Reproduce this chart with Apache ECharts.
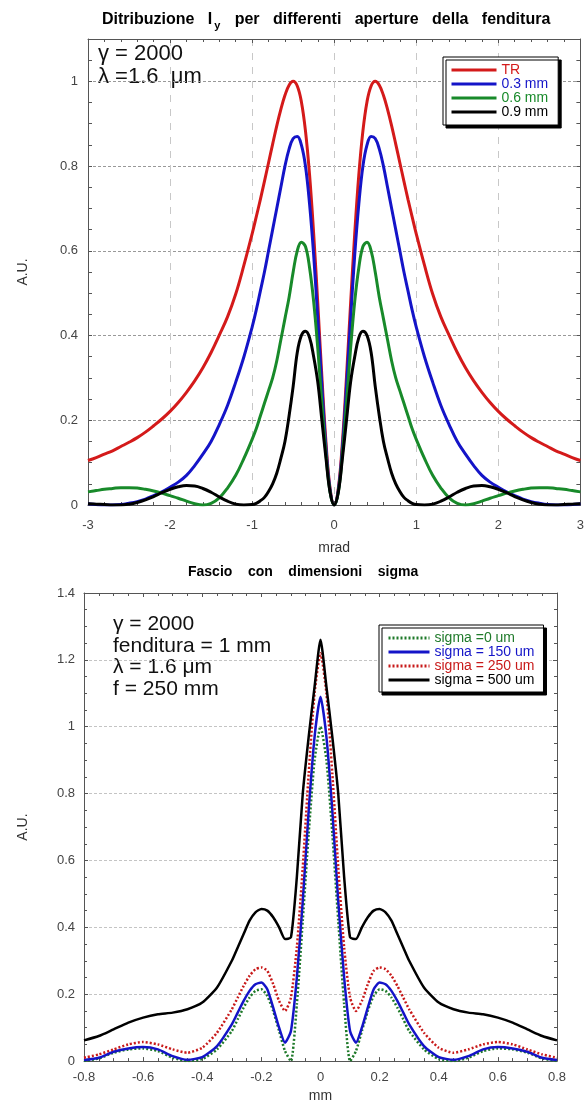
<!DOCTYPE html>
<html>
<head>
<meta charset="utf-8">
<title>Distribuzione Iy</title>
<script src="https://cdn.jsdelivr.net/npm/echarts@6/dist/echarts.min.js"></script>
<style>
  body { margin: 0; background: #fff; }
  .chart { width: 587px; }
</style>
</head>
<body>
<div id="chart_top" class="chart" style="height: 560px;"></div>
<div id="chart_bottom" class="chart" style="height: 548px;"></div>
<script>
// ---- top chart: angle in mrad ----
var topX = [-3.0,-2.9,-2.8,-2.7,-2.6,-2.5,-2.4,-2.3,-2.2,-2.1,-2.0,-1.9,-1.8,-1.7,-1.6,-1.5,-1.4,-1.3,-1.2,-1.1,
  -1.0,-0.95,-0.9,-0.85,-0.8,-0.75,-0.7,-0.65,-0.6,-0.55,-0.5,-0.45,-0.4,-0.35,-0.3,-0.25,-0.2,-0.15,-0.1,-0.05,
  0,
  0.05,0.1,0.15,0.2,0.25,0.3,0.35,0.4,0.45,0.5,0.55,0.6,0.65,0.7,0.75,0.8,0.85,0.9,0.95,1.0,
  1.1,1.2,1.3,1.4,1.5,1.6,1.7,1.8,1.9,2.0,2.1,2.2,2.3,2.4,2.5,2.6,2.7,2.8,2.9,3.0];

var trValues = [.105,.112,.12,.128,.138,.148,.159,.172,.187,.203,.221,.242,.266,.293,.324,.36,.401,.444,.498,.566,
  .64,.68,.721,.764,.808,.852,.895,.934,.967,.991,1.0,.989,.952,.883,.779,.64,.476,.303,.148,.039,
  0,
  .039,.148,.303,.476,.64,.779,.883,.952,.989,1.0,.991,.967,.934,.895,.852,.808,.764,.721,.68,.64,
  .566,.498,.444,.401,.36,.324,.293,.266,.242,.221,.203,.187,.172,.159,.148,.138,.128,.12,.112,.105];

var slit03 = [.003,.001,0,0,.001,.004,.008,.014,.022,.031,.042,.054,.07,.093,.12,.15,.19,.235,.29,.35,
  .42,.46,.505,.55,.60,.65,.70,.75,.80,.84,.865,.87,.85,.80,.71,.59,.44,.28,.135,.035,
  0,
  .035,.135,.28,.44,.59,.71,.80,.85,.87,.865,.84,.80,.75,.70,.65,.60,.55,.505,.46,.42,
  .35,.29,.235,.19,.15,.12,.093,.07,.054,.042,.031,.022,.014,.008,.004,.001,0,0,.001,.003];

var slit06 = [.031,.034,.037,.039,.041,.041,.040,.037,.033,.028,.022,.016,.009,.003,0,.004,.017,.04,.07,.11,
  .155,.18,.21,.24,.27,.30,.34,.39,.44,.49,.55,.60,.62,.61,.56,.48,.37,.24,.12,.03,
  0,
  .03,.12,.24,.37,.48,.56,.61,.62,.60,.55,.49,.44,.39,.34,.30,.27,.24,.21,.18,.155,
  .11,.07,.04,.017,.004,0,.003,.009,.016,.022,.028,.033,.037,.040,.041,.041,.039,.037,.034,.031];

var slit09 = [.003,.002,.001,0,0,.002,.006,.012,.02,.029,.037,.043,.046,.045,.039,.03,.019,.009,.002,0,
  .001,.004,.01,.018,.032,.05,.075,.11,.15,.21,.28,.36,.40,.41,.395,.35,.29,.20,.11,.03,
  0,
  .03,.11,.20,.29,.35,.395,.41,.40,.36,.28,.21,.15,.11,.075,.05,.032,.018,.01,.004,.001,
  0,.002,.009,.019,.03,.039,.045,.046,.043,.037,.029,.02,.012,.006,.002,0,0,.001,.002,.003];

var topNames = ['TR', '0.3 mm', '0.6 mm', '0.9 mm'];
var topColors = ['#d41a1a', '#1414c8', '#188a2a', '#000000'];

// ---- bottom chart: position in mm ----
var botX = [-0.8,-0.75,-0.7,-0.65,-0.6,-0.55,-0.5,-0.45,-0.4,-0.35,-0.3,-0.28,-0.26,-0.24,-0.22,-0.2,-0.18,-0.16,-0.14,-0.12,-0.1,-0.08,-0.06,-0.04,-0.02,
  0,
  0.02,0.04,0.06,0.08,0.1,0.12,0.14,0.16,0.18,0.2,0.22,0.24,0.26,0.28,0.3,0.35,0.4,0.45,0.5,0.55,0.6,0.65,0.7,0.75,0.8];

var sigma0 = [0,.008,.025,.035,.038,.03,.01,0,.006,.035,.09,.125,.16,.19,.21,.215,.195,.15,.09,.03,0,.17,.42,.68,.9,
  1.0,
  .9,.68,.42,.17,0,.03,.09,.15,.195,.215,.21,.19,.16,.125,.09,.035,.006,0,.01,.03,.038,.035,.025,.008,0];

var sigma150 = [.003,.01,.028,.038,.042,.035,.015,.004,.012,.045,.11,.145,.18,.21,.23,.235,.215,.16,.1,.055,.09,.25,.48,.75,.97,
  1.09,
  .97,.75,.48,.25,.09,.055,.1,.16,.215,.235,.23,.21,.18,.145,.11,.045,.012,.004,.015,.035,.042,.038,.028,.01,.003];

var sigma250 = [.01,.02,.035,.05,.057,.05,.035,.025,.04,.085,.155,.19,.225,.255,.275,.28,.27,.23,.18,.15,.19,.34,.58,.86,1.1,
  1.22,
  1.1,.86,.58,.34,.19,.15,.18,.23,.27,.28,.275,.255,.225,.19,.155,.085,.04,.025,.035,.05,.057,.05,.035,.02,.01];

var sigma500 = [.062,.075,.095,.115,.13,.14,.145,.155,.175,.22,.30,.34,.38,.42,.445,.455,.45,.43,.4,.365,.37,.55,.80,.97,1.12,
  1.26,
  1.12,.97,.80,.55,.37,.365,.4,.43,.45,.455,.445,.42,.38,.34,.30,.22,.175,.155,.145,.14,.13,.115,.095,.075,.062];

var botNames = ['sigma =0 um', 'sigma = 150 um', 'sigma = 250 um', 'sigma = 500 um'];
var botColors = ['#1f7a2a', '#1414c8', '#c81a1a', '#000000'];

var FONT = '"Liberation Sans", Arial, sans-serif';

function pairs(xs, ys) {
    return xs.map(function (x, i) { return [x, ys[i]]; });
}

// frame axes: ticks pointing inward on all four sides
function frameAxis(pos, min, max, interval, extra) {
    var a = {
        type: 'value', position: pos, min: min, max: max, interval: interval,
        axisLine: { show: true, onZero: false, lineStyle: { color: '#555', width: 1 } },
        axisTick: { show: true, inside: true, length: 4, lineStyle: { color: '#555' } },
        axisLabel: { show: false },
        splitLine: { show: false }
    };
    for (var k in extra) a[k] = extra[k];
    return a;
}

var echart_top = echarts.init(document.getElementById('chart_top'));

var optionTop = {
    animation: false,
    title: {
        text: 'Ditribuzione   I{s|y}   per   differenti   aperture   della   fenditura',
        left: 97, top: 3,
        textStyle: {
            fontFamily: FONT, fontSize: 16, fontWeight: 'bold', color: '#000',
            rich: { s: { fontFamily: FONT, fontSize: 11, fontWeight: 'bold', padding: [12, 1, 0, 2] } }
        }
    },
    grid: { left: 88, right: 3, top: 39, bottom: 48 },
    legend: {
        orient: 'vertical', left: 443, top: 57,
        padding: [6, 10, 6, 7], itemGap: 0, itemWidth: 45, itemHeight: 13,
        backgroundColor: '#fff', borderColor: '#000', borderWidth: 1,
        shadowColor: '#000', shadowOffsetX: 3, shadowOffsetY: 3, shadowBlur: 0,
        itemStyle: { opacity: 0 },
        lineStyle: { width: 3 },
        textStyle: { fontFamily: FONT, fontSize: 14, lineHeight: 13 },
        data: topNames.map(function (n, i) { return { name: n, textStyle: { color: topColors[i] } }; })
    },
    graphic: [
        { type: 'text', left: 98, top: 43, style: { text: 'γ = 2000', font: '22px ' + FONT, fill: '#111' } },
        { type: 'text', left: 98, top: 66, style: { text: 'λ =1.6  μm', font: '22px ' + FONT, fill: '#111' } }
    ],
    xAxis: [
        frameAxis('bottom', -3, 3, 1, {
            name: 'mrad', nameLocation: 'middle', nameGap: 36,
            nameTextStyle: { fontFamily: FONT, fontSize: 14, color: '#333' },
            axisLabel: { show: true, fontFamily: FONT, fontSize: 13, color: '#444', margin: 14 },
            minorTick: { show: true, splitNumber: 5, length: 3, lineStyle: { color: '#555' } },
            splitLine: { show: true, lineStyle: { color: '#c8c8c8', type: [7, 7], width: 1 } }
        }),
        frameAxis('top', -3, 3, 1, {
            minorTick: { show: true, splitNumber: 5, length: 3, lineStyle: { color: '#555' } }
        })
    ],
    yAxis: [
        frameAxis('left', 0, 1.1, 0.2, {
            name: 'A.U.', nameLocation: 'middle', nameGap: 58, nameRotate: 90,
            nameTextStyle: { fontFamily: FONT, fontSize: 14, color: '#333' },
            axisTick: { show: false },
            axisLabel: {
                show: true, fontFamily: FONT, fontSize: 13, color: '#444', margin: 10,
                formatter: function (v) { return v > 1.05 ? '' : String(Math.round(v * 10) / 10); }
            },
            splitLine: { show: true, lineStyle: { color: '#999', type: [3, 2], width: 1 } }
        }),
        frameAxis('left', 0, 1.1, 0.05, { axisLine: { show: false, onZero: false } }),
        frameAxis('right', 0, 1.1, 0.05, {})
    ],
    series: [trValues, slit03, slit06, slit09].map(function (vals, i) {
        return {
            name: topNames[i], type: 'line', xAxisIndex: 0, yAxisIndex: 0,
            data: pairs(topX, vals), smooth: 0.4, symbol: 'none', clip: true,
            lineStyle: { color: topColors[i], width: 3 }, itemStyle: { color: topColors[i] }
        };
    })
};
echart_top.setOption(optionTop);

var echart_bottom = echarts.init(document.getElementById('chart_bottom'));

var optionBottom = {
    animation: false,
    title: {
        text: 'Fascio    con    dimensioni    sigma',
        left: 183, top: 0,
        textStyle: { fontFamily: FONT, fontSize: 14, fontWeight: 'bold', color: '#000' }
    },
    grid: { left: 84, right: 30, top: 33, bottom: 40 },
    legend: {
        orient: 'vertical', left: 379, top: 65,
        padding: [6, 9, 5, 8], itemGap: 0, itemWidth: 41, itemHeight: 12.5,
        backgroundColor: '#fff', borderColor: '#000', borderWidth: 1,
        shadowColor: '#000', shadowOffsetX: 3, shadowOffsetY: 3, shadowBlur: 0,
        itemStyle: { opacity: 0 },
        lineStyle: { width: 3 },
        textStyle: { fontFamily: FONT, fontSize: 14, lineHeight: 12.5 },
        data: botNames.map(function (n, i) { return { name: n, textStyle: { color: botColors[i] } }; })
    },
    graphic: [
        { type: 'text', left: 113, top: 54, style: { text: 'γ = 2000', font: '21px ' + FONT, fill: '#111' } },
        { type: 'text', left: 113, top: 76, style: { text: 'fenditura = 1 mm', font: '21px ' + FONT, fill: '#111' } },
        { type: 'text', left: 113, top: 97, style: { text: 'λ = 1.6 μm', font: '21px ' + FONT, fill: '#111' } },
        { type: 'text', left: 113, top: 119, style: { text: 'f = 250 mm', font: '21px ' + FONT, fill: '#111' } }
    ],
    xAxis: [
        frameAxis('bottom', -0.8, 0.8, 0.2, {
            name: 'mm', nameLocation: 'middle', nameGap: 27,
            nameTextStyle: { fontFamily: FONT, fontSize: 14, color: '#333' },
            axisLabel: { show: true, fontFamily: FONT, fontSize: 13, color: '#444', margin: 10 },
            minorTick: { show: true, splitNumber: 4, length: 3, lineStyle: { color: '#555' } }
        }),
        frameAxis('top', -0.8, 0.8, 0.2, {
            minorTick: { show: true, splitNumber: 4, length: 3, lineStyle: { color: '#555' } }
        })
    ],
    yAxis: [
        frameAxis('left', 0, 1.4, 0.2, {
            name: 'A.U.', nameLocation: 'middle', nameGap: 54, nameRotate: 90,
            nameTextStyle: { fontFamily: FONT, fontSize: 14, color: '#333' },
            axisLabel: {
                show: true, fontFamily: FONT, fontSize: 13, color: '#444', margin: 9,
                formatter: function (v) { return String(Math.round(v * 10) / 10); }
            },
            minorTick: { show: true, splitNumber: 4, length: 3, lineStyle: { color: '#555' } },
            splitLine: { show: true, lineStyle: { color: '#c4c4c4', type: [3, 2], width: 1 } }
        }),
        frameAxis('right', 0, 1.4, 0.2, {
            minorTick: { show: true, splitNumber: 4, length: 3, lineStyle: { color: '#555' } }
        })
    ],
    series: [sigma0, sigma150, sigma250, sigma500].map(function (vals, i) {
        var dotted = (i === 0 || i === 2);
        return {
            name: botNames[i], type: 'line', xAxisIndex: 0, yAxisIndex: 0,
            data: pairs(botX, vals), smooth: 0.2, symbol: 'none', clip: true, z: [2, 3, 4, 5][i],
            lineStyle: { color: botColors[i], width: 2.5, type: dotted ? [2, 2] : 'solid' },
            itemStyle: { color: botColors[i] }
        };
    })
};
echart_bottom.setOption(optionBottom);
</script>
</body>
</html>
